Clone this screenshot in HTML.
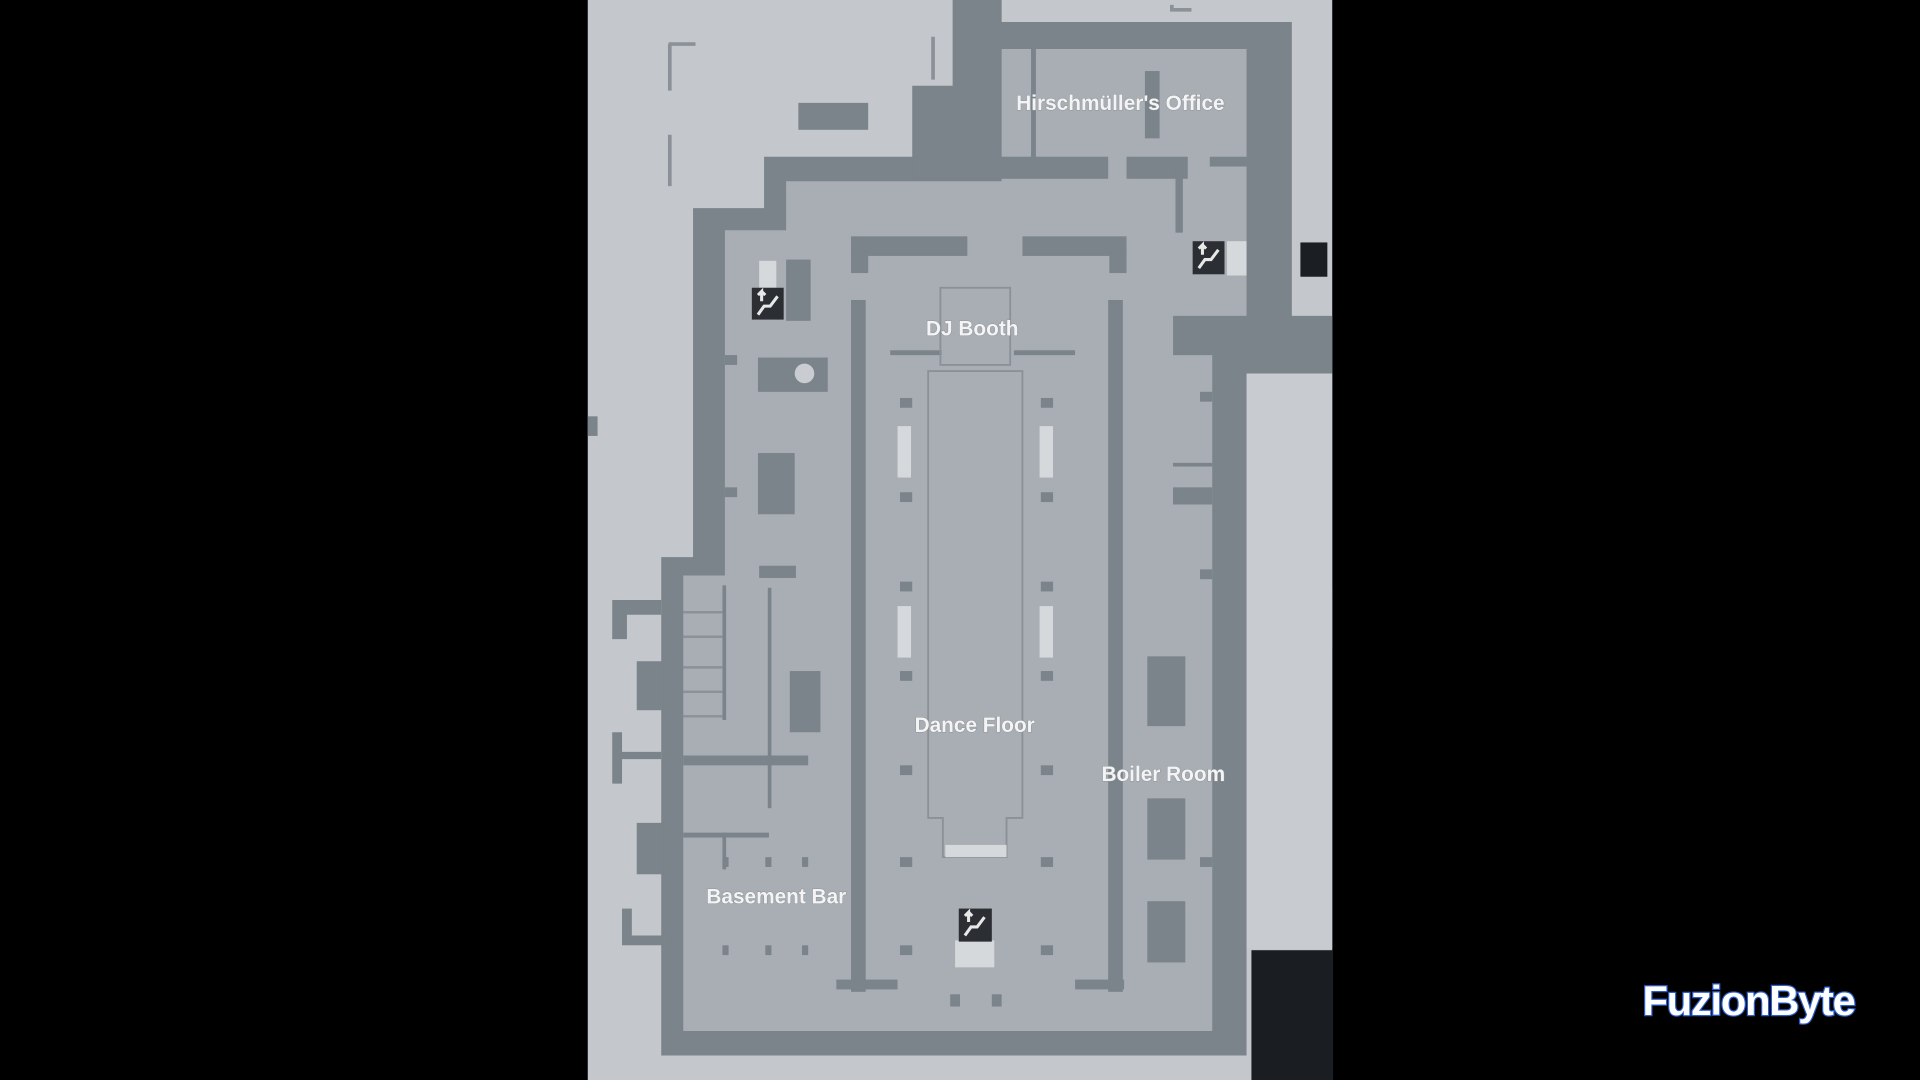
<!DOCTYPE html>
<html><head><meta charset="utf-8"><style>
html,body{margin:0;padding:0;background:#000;}
svg{display:block}
text{font-family:"Liberation Sans",sans-serif;font-weight:bold;}
</style></head><body>
<svg width="1920" height="1080" viewBox="0 0 1568 882" preserveAspectRatio="none" xmlns="http://www.w3.org/2000/svg">
<rect width="1568" height="882" fill="#000"/>
<rect x="480" y="0" width="608" height="882" fill="#c4c7cb"/>
<!-- outside details -->
<path d="M546,36h22M547,36v38M547,110v42M762,30v35M957,4v4h16" stroke="#8a9198" stroke-width="3" fill="none"/>
<rect x="652" y="84" width="57" height="22" fill="#7b838b"/>
<rect x="1062" y="198" width="22" height="28" fill="#1b1e23"/>
<rect x="1043" y="480" width="45" height="50" fill="#7b838b"/>
<rect x="1018" y="305" width="70" height="470" fill="#c8cbcf"/>
<rect x="1022" y="776" width="66" height="106" fill="#1a1d22"/>
<!-- building walls -->
<polygon points="540,455 566,455 566,170 624,170 624,128 745,128 745,70 778,70 778,0 818,0 818,18 1055,18 1055,258 1088,258 1088,305 1018,305 1018,862 540,862" fill="#7b838b"/>
<polygon points="558,470 592,470 592,188 642,188 642,148 818,148 818,40 1018,40 1018,258 958,258 958,290 990,290 990,842 558,842" fill="#a9aeb4"/>
<!-- office wall -->
<rect x="745" y="128" width="160" height="18" fill="#7b838b"/>
<rect x="920" y="128" width="50" height="18" fill="#7b838b"/>
<rect x="988" y="128" width="30" height="8" fill="#7b838b"/>
<rect x="842" y="40" width="4" height="90" fill="#7b838b"/>
<rect x="935" y="58" width="12" height="55" fill="#7b838b"/>
<rect x="960" y="135" width="6" height="55" fill="#7b838b"/>
<!-- left protrusions -->
<path d="M500,490h40v12h-28v20h-12z M500,598h8v42h-8z M508,614h32v6h-32z M500,742h8v30h40v-8h-32v-22z" fill="#7b838b"/>
<rect x="520" y="540" width="22" height="40" fill="#7b838b"/>
<rect x="520" y="672" width="22" height="42" fill="#7b838b"/>
<rect x="480" y="340" width="8" height="16" fill="#7b838b"/>
<!-- column walls -->
<rect x="695" y="245" width="12" height="565" fill="#7b838b"/>
<rect x="905" y="245" width="12" height="565" fill="#7b838b"/>
<rect x="695" y="193" width="95" height="16" fill="#7b838b"/>
<rect x="835" y="193" width="85" height="16" fill="#7b838b"/>
<rect x="695" y="205" width="14" height="18" fill="#7b838b"/>
<rect x="906" y="205" width="14" height="18" fill="#7b838b"/>
<rect x="683" y="800" width="50" height="8" fill="#7b838b"/>
<rect x="878" y="800" width="40" height="8" fill="#7b838b"/>
<rect x="776" y="812" width="8" height="10" fill="#7b838b"/>
<rect x="810" y="812" width="8" height="10" fill="#7b838b"/>
<path d="M727,288h42M828,288h50" stroke="#7b838b" stroke-width="4"/>
<!-- dance floor outlines -->
<g fill="none" stroke="#8a9198" stroke-width="1.5">
<rect x="768" y="235" width="57" height="63"/>
<polygon points="758,303 835,303 835,668 822,668 822,700 770,700 770,668 758,668"/>
</g>
<rect x="772" y="690" width="50" height="10" fill="#d6d9dc"/>
<rect x="733" y="348" width="11" height="42" fill="#d6d9dc"/>
<rect x="849" y="348" width="11" height="42" fill="#d6d9dc"/>
<rect x="733" y="495" width="11" height="42" fill="#d6d9dc"/>
<rect x="849" y="495" width="11" height="42" fill="#d6d9dc"/>
<g fill="#7b838b">
<rect x="735" y="325" width="10" height="8"/><rect x="850" y="325" width="10" height="8"/>
<rect x="735" y="402" width="10" height="8"/><rect x="850" y="402" width="10" height="8"/>
<rect x="735" y="475" width="10" height="8"/><rect x="850" y="475" width="10" height="8"/>
<rect x="735" y="548" width="10" height="8"/><rect x="850" y="548" width="10" height="8"/>
<rect x="735" y="625" width="10" height="8"/><rect x="850" y="625" width="10" height="8"/>
<rect x="735" y="700" width="10" height="8"/><rect x="850" y="700" width="10" height="8"/>
<rect x="735" y="772" width="10" height="8"/><rect x="850" y="772" width="10" height="8"/>
</g>
<!-- left area -->
<rect x="619" y="292" width="57" height="28" fill="#7b838b"/>
<circle cx="657" cy="305" r="8" fill="#c9ccd0"/>
<rect x="619" y="370" width="30" height="50" fill="#7b838b"/>
<rect x="642" y="212" width="20" height="50" fill="#7b838b"/>
<rect x="645" y="548" width="25" height="50" fill="#7b838b"/>
<rect x="620" y="462" width="30" height="10" fill="#7b838b"/>
<rect x="558" y="617" width="102" height="8" fill="#7b838b"/>
<rect x="627" y="480" width="3" height="180" fill="#7b838b"/>
<rect x="590" y="478" width="3" height="110" fill="#7b838b"/>
<path d="M558,500h32M558,520h32M558,545h32M558,565h32M558,585h32" stroke="#8a9198" stroke-width="2"/>
<rect x="558" y="680" width="70" height="4" fill="#7b838b"/>
<rect x="590" y="680" width="3" height="30" fill="#7b838b"/>
<g fill="#7b838b">
<rect x="590" y="700" width="5" height="8"/><rect x="625" y="700" width="5" height="8"/><rect x="655" y="700" width="5" height="8"/>
<rect x="590" y="772" width="5" height="8"/><rect x="625" y="772" width="5" height="8"/><rect x="655" y="772" width="5" height="8"/>
<rect x="592" y="290" width="10" height="8"/><rect x="592" y="398" width="10" height="8"/>
<rect x="980" y="320" width="10" height="8"/><rect x="980" y="465" width="10" height="8"/><rect x="980" y="700" width="10" height="8"/>
</g>
<rect x="958" y="378" width="32" height="3" fill="#7b838b"/>
<rect x="958" y="398" width="32" height="14" fill="#7b838b"/>
<!-- boiler -->
<rect x="937" y="536" width="31" height="57" fill="#7b838b"/>
<rect x="937" y="652" width="31" height="50" fill="#7b838b"/>
<rect x="937" y="736" width="31" height="50" fill="#7b838b"/>
<!-- stairs icons -->
<rect x="620" y="213" width="14" height="22" fill="#d6d9dc"/>
<rect x="1002" y="197" width="16" height="28" fill="#d6d9dc"/>
<rect x="780" y="768" width="32" height="22" fill="#d6d9dc"/>
<g fill="#2b2e33">
<rect x="614" y="235" width="26" height="26"/>
<rect x="974" y="197" width="26" height="27"/>
<rect x="783" y="742" width="27" height="27"/>
</g>
<g stroke="#e8e8e8" stroke-width="2.5" fill="none">
<path d="M619,257l5,-7h5l6,-8M622,246v-8l-3,3M622,238l3,3"/>
<path d="M979,219l5,-7h5l6,-8M982,208v-8l-3,3M982,200l3,3"/>
<path d="M788,764l5,-7h5l6,-8M791,753v-8l-3,3M791,745l3,3"/>
</g>
<!-- labels -->
<g fill="#f4f4f4" font-size="17" text-anchor="middle" style="paint-order:stroke" stroke="#8e949a" stroke-width="0.8">
<text x="915" y="90">Hirschmüller's Office</text>
<text x="794" y="274">DJ Booth</text>
<text x="796" y="598">Dance Floor</text>
<text x="950" y="638">Boiler Room</text>
<text x="634" y="738">Basement Bar</text>
</g>
<!-- logo -->
<text x="1428" y="829" font-size="34" text-anchor="middle" fill="#ffffff" stroke="#2a5fd0" stroke-width="2" style="paint-order:stroke" letter-spacing="-1">FuzionByte</text>
</svg>
</body></html>
